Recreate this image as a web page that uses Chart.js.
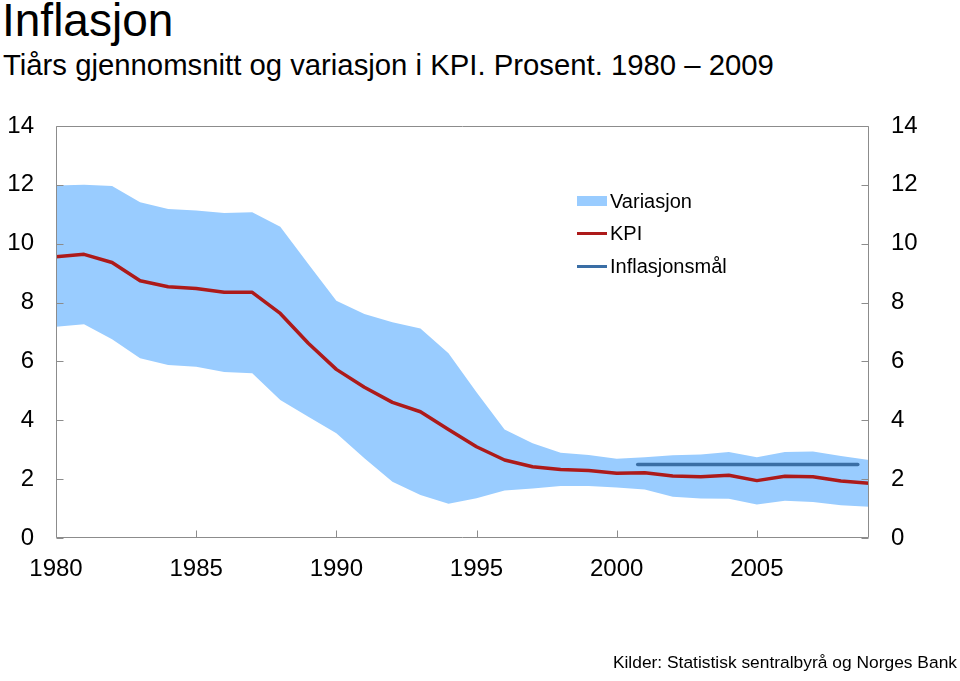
<!DOCTYPE html>
<html>
<head>
<meta charset="utf-8">
<script src="https://cdn.jsdelivr.net/npm/chart.js@4.4.0/dist/chart.umd.min.js"></script>
<style>
  html, body { margin: 0; padding: 0; background: #fff; }
  body { width: 960px; height: 681px; position: relative; overflow: hidden;
         font-family: "Liberation Sans", Arial, Helvetica, sans-serif; color: #000; }
  #title { position: absolute; left: 2px; top: -3px; font-size: 46px; line-height: 46px; white-space: nowrap; }
  #subtitle { position: absolute; left: 3px; top: 50px; font-size: 29.3px; line-height: 29px; white-space: nowrap; }
  #source { position: absolute; right: 3px; top: 653px; font-size: 17.4px; line-height: 18px; white-space: nowrap; }
  #legend { position: absolute; left: 577px; top: 191px; font-size: 20px; line-height: 20px; }
  .row { position: relative; height: 32.3px; padding-left: 33px; white-space: nowrap; }
  .sw { position: absolute; left: 0; width: 30px; }
  .sw.box { top: 5px; height: 10px; background: #99ccff; }
  .sw.line { top: 9px; height: 3px; }
  canvas { position: absolute; left: 0; top: 0; }
</style>
</head>
<body>
<div id="title">Inflasjon</div>
<div id="subtitle">Tiårs gjennomsnitt og variasjon i KPI. Prosent. 1980 – 2009</div>
<canvas id="chart" width="960" height="681"></canvas>
<div id="legend">
  <div class="row"><span class="sw box"></span>Variasjon</div>
  <div class="row"><span class="sw line" style="background:#ad1a1a"></span>KPI</div>
  <div class="row"><span class="sw line" style="background:#3a6ea5"></span>Inflasjonsmål</div>
</div>
<div id="source">Kilder: Statistisk sentralbyrå og Norges Bank</div>

<script>
const years = [1980, 1981, 1982, 1983, 1984, 1985, 1986, 1987, 1988, 1989,
  1990, 1991, 1992, 1993, 1994, 1995, 1996, 1997, 1998, 1999,
  2000, 2001, 2002, 2003, 2004, 2005, 2006, 2007, 2008, 2009];

// tiårs gjennomsnitt KPI
const kpi = [9.56, 9.64, 9.36, 8.74, 8.54, 8.48, 8.35, 8.35, 7.63, 6.62,
  5.73, 5.12, 4.61, 4.29, 3.69, 3.10, 2.65, 2.42, 2.33, 2.29,
  2.20, 2.22, 2.11, 2.08, 2.13, 1.95, 2.10, 2.08, 1.94, 1.86];

// variasjon, øvre og nedre kant
const upper = [11.98, 12.0, 11.96, 11.41, 11.18, 11.13, 11.04, 11.07, 10.58, 9.31,
  8.06, 7.61, 7.33, 7.12, 6.28, 4.95, 3.69, 3.22, 2.90, 2.82,
  2.69, 2.74, 2.81, 2.84, 2.92, 2.74, 2.92, 2.94, 2.79, 2.65];
const lower = [7.18, 7.26, 6.75, 6.11, 5.88, 5.82, 5.64, 5.60, 4.69, 4.12,
  3.56, 2.71, 1.91, 1.46, 1.16, 1.35, 1.61, 1.68, 1.77, 1.77,
  1.72, 1.65, 1.40, 1.34, 1.33, 1.14, 1.27, 1.22, 1.11, 1.06];

// inflasjonsmål
const targetYears = [2000.75, 2008.6];
const targetValues = [2.5, 2.5];

const xTicks = [1980, 1985, 1990, 1995, 2000, 2005];
const yTicks = [0, 2, 4, 6, 8, 10, 12, 14];

const FONT = '"Liberation Sans", Arial, Helvetica, sans-serif';
const frameColor = '#8c8c8c';

const toPoints = (xs, ys) => xs.map((x, i) => ({ x: x, y: ys[i] }));

// ramme og ticks som peker innover
const framePlugin = {
  id: 'frame',
  afterDatasetsDraw(chart) {
    const { ctx, chartArea: a, scales } = chart;
    const L = Math.round(a.left) + 0.5, R = Math.round(a.right) - 0.5;
    const T = Math.round(a.top) + 0.5, B = Math.round(a.bottom) - 0.5;
    ctx.save();
    ctx.strokeStyle = frameColor;
    ctx.lineWidth = 1;
    ctx.beginPath();
    ctx.rect(L, T, R - L, B - T);
    yTicks.forEach(v => {
      const y = Math.round(scales.y.getPixelForValue(v)) + 0.5;
      ctx.moveTo(L, y); ctx.lineTo(L + 7, y);
      ctx.moveTo(R, y); ctx.lineTo(R - 7, y);
    });
    xTicks.forEach(v => {
      const x = Math.round(scales.x.getPixelForValue(v)) + 0.5;
      ctx.moveTo(x, B); ctx.lineTo(x, B - 7);
    });
    ctx.stroke();
    ctx.restore();
  }
};

const tickFont = { family: FONT, size: 24 };

new Chart(document.getElementById('chart'), {
  type: 'line',
  data: {
    datasets: [
      {
        label: 'KPI',
        data: toPoints(years, kpi),
        borderColor: '#ad1a1a',
        borderWidth: 3.5,
        pointRadius: 0,
        tension: 0,
        fill: false,
        borderJoinStyle: 'round'
      },
      {
        label: 'Inflasjonsmål',
        data: toPoints(targetYears, targetValues),
        borderColor: '#3a6ea5',
        borderWidth: 3.5,
        pointRadius: 0,
        fill: false,
        borderCapStyle: 'round'
      },
      {
        label: 'Variasjon',
        data: toPoints(years, upper),
        borderWidth: 0,
        borderColor: 'rgba(0,0,0,0)',
        backgroundColor: '#99ccff',
        pointRadius: 0,
        tension: 0,
        fill: '+1'
      },
      {
        label: 'nedre',
        data: toPoints(years, lower),
        borderWidth: 0,
        borderColor: 'rgba(0,0,0,0)',
        pointRadius: 0,
        tension: 0,
        fill: false
      }
    ]
  },
  options: {
    responsive: false,
    animation: false,
    layout: { padding: { top: 126, left: 0, right: 0, bottom: 0 } },
    plugins: { legend: { display: false }, tooltip: { enabled: false } },
    scales: {
      x: {
        type: 'linear',
        min: 1980,
        max: 2009,
        afterBuildTicks: s => { s.ticks = xTicks.map(v => ({ value: v })); },
        afterFit: s => { s.height = 143; },
        grid: { display: false, drawTicks: false },
        border: { display: false },
        ticks: { font: tickFont, color: '#000', padding: 17, maxRotation: 0, autoSkip: false,
                 callback: v => String(v) }
      },
      y: {
        position: 'left',
        min: 0,
        max: 14,
        afterBuildTicks: s => { s.ticks = yTicks.map(v => ({ value: v })); },
        afterFit: s => { s.width = 56; },
        grid: { display: false, drawTicks: false },
        border: { display: false },
        ticks: { font: tickFont, color: '#000', padding: 22 }
      },
      y2: {
        position: 'right',
        min: 0,
        max: 14,
        afterBuildTicks: s => { s.ticks = yTicks.map(v => ({ value: v })); },
        afterFit: s => { s.width = 91; },
        grid: { display: false, drawTicks: false },
        border: { display: false },
        ticks: { font: tickFont, color: '#000', padding: 22 }
      }
    }
  },
  plugins: [framePlugin]
});
</script>
</body>
</html>
